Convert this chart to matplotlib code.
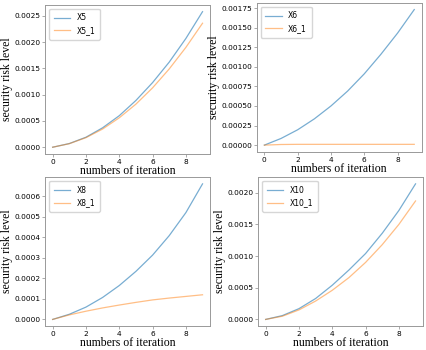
import matplotlib
matplotlib.use("Agg")
import matplotlib.pyplot as plt

iterations = list(range(10))

x5 = [0, 0.00007, 0.00019, 0.00037, 0.00060, 0.00089, 0.00123, 0.00162, 0.00207, 0.00258]
x5_1 = [0, 0.000067, 0.000182, 0.000346, 0.00056, 0.00082, 0.00113, 0.00149, 0.00190, 0.00236]

x6 = [0, 0.000085, 0.000196, 0.000335, 0.00050, 0.00069, 0.00091, 0.00116, 0.00143, 0.00173]
x6_1 = [0, 0.000008, 0.00001, 0.00001, 0.00001, 0.00001, 0.00001, 0.00001, 0.00001, 0.00001]

x8 = [0, 0.000025, 0.00006, 0.000107, 0.000165, 0.000234, 0.000313, 0.000408, 0.00052, 0.00066]
x8_1 = [0, 0.000022, 0.00004, 0.000056, 0.00007, 0.000083, 0.000095, 0.000104, 0.000112, 0.00012]

x10 = [0, 0.00006, 0.00017, 0.00033, 0.00054, 0.00078, 0.00104, 0.00136, 0.00172, 0.00214]
x10_1 = [0, 0.00005, 0.00015, 0.00029, 0.00046, 0.00066, 0.00090, 0.00118, 0.00150, 0.00187]

panels = [
    ("X5", x5, "X5_1", x5_1, [0.106, 0.56, 0.387, 0.426]),
    ("X6", x6, "X6_1", x6_1, [0.603, 0.566, 0.387, 0.426]),
    ("X8", x8, "X8_1", x8_1, [0.106, 0.068, 0.387, 0.426]),
    ("X10", x10, "X10_1", x10_1, [0.606, 0.068, 0.387, 0.426]),
]

fig = plt.figure(figsize=(4.26, 3.5), dpi=100)
for n1, v1, n2, v2, pos in panels:
    ax = fig.add_axes(pos)
    ax.plot(iterations, v1, color="#1f77b4", alpha=0.6, lw=0.9, label=n1)
    ax.plot(iterations, v2, color="#ff7f0e", alpha=0.5, lw=0.9, label=n2)
    ax.set_xticks([0, 2, 4, 6, 8])
    ax.tick_params(labelsize=5.3, length=2, width=0.5, color="#888888", pad=1.5)
    for s in ax.spines.values():
        s.set_color("#999999")
        s.set_linewidth(0.7)
    ax.set_xlabel("numbers of iteration", family="Liberation Serif", fontsize=8.5, labelpad=0)
    ax.set_ylabel("security risk level", family="Liberation Serif", fontsize=8.5, labelpad=1)
    ax.legend(loc="upper left", fontsize=5.5, frameon=True, handlelength=2.2, borderpad=0.6)

fig.savefig("out.png", dpi=100)
